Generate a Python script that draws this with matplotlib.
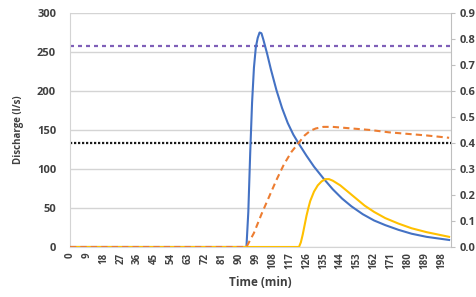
import matplotlib
matplotlib.use("Agg")
import matplotlib.pyplot as plt
import numpy as np

plt.rcParams['font.family'] = ['Open Sans', 'DejaVu Sans']

# Hydrographs (time in min, discharge in l/s)
t_blue = [0, 94, 95, 96, 97, 98, 99, 100, 101, 102, 103, 105, 107, 110, 113, 116, 119,
          122, 126, 130, 135, 140, 145, 150, 156, 162, 168, 175, 182, 190, 196, 202]
q_blue = [0, 0, 45, 120, 185, 230, 256, 268, 275, 274, 266, 248, 228, 201, 178, 159, 144,
          132, 117, 103, 88, 74, 62, 52, 42, 34, 28, 22, 17, 13, 11, 9]

t_yellow = [0, 122, 123, 124, 125, 126, 127, 128, 130, 132, 134, 136, 138, 140, 144,
            148, 152, 157, 162, 168, 175, 182, 190, 196, 202]
q_yellow = [0, 0, 6, 16, 28, 40, 50, 59, 71, 79, 84, 87, 87, 85, 79,
            71, 63, 53, 45, 37, 30, 24, 19, 16, 13]

t_orange = [0, 94, 98, 102, 106, 110, 114, 118, 122, 125, 128, 131, 135, 140, 150,
            160, 170, 180, 190, 202]
q_orange = [0, 0, 18, 42, 64, 86, 106, 122, 134, 143, 149, 152, 154, 154, 152,
            150, 147, 145, 143, 140]

purple_level = 258
black_level = 133.3

x_ticks = list(range(0, 199, 9))
left_ticks = [0, 50, 100, 150, 200, 250, 300]
right_ticks = [0.0, 0.1, 0.2, 0.3, 0.4, 0.5, 0.6, 0.7, 0.8, 0.9]

fig = plt.figure(figsize=(4.77, 2.97), dpi=100)
ax = fig.add_axes([0.1468, 0.1684, 0.7987, 0.7878])

x_max = 203
for y in left_ticks:
    ax.axhline(y, color='#d4d4d4', lw=1.0, zorder=0)

ax.axhline(purple_level, color='#7f5fb8', lw=1.6, ls=(0, (1.8, 1.8)), zorder=2)
ax.axhline(black_level, color='#1a1a1a', lw=1.6, ls=(0, (1, 0.8)), zorder=2)
ax.plot(t_blue, q_blue, color='#4472c4', lw=1.5, zorder=3)
ax.plot(t_yellow, q_yellow, color='#ffc000', lw=1.5, zorder=4)
ax.plot(t_orange, q_orange, color='#ed7d31', lw=1.5, ls=(0, (3, 2)), zorder=5)

ax.set_xlim(0, x_max)
ax.set_ylim(0, 300)
ax.set_yticks(left_ticks)
ax.set_xticks(x_ticks)
ax.set_xticklabels([str(v) for v in x_ticks], rotation=90)
ax.tick_params(axis='y', length=0, labelsize=8, labelcolor='#404040', pad=10)
ax.tick_params(axis='x', length=0, labelsize=7, labelcolor='#404040', pad=4)
for lab in ax.get_xticklabels() + ax.get_yticklabels():
    lab.set_fontweight('bold')
for s in ['top', 'right']:
    ax.spines[s].set_visible(False)
for s in ['left', 'bottom']:
    ax.spines[s].set_color('#d4d4d4')

ax.set_xlabel('Time (min)', fontsize=8.5, fontweight='bold', color='#404040', labelpad=5)
ax.set_ylabel('Discharge (l/s)', fontsize=7, fontweight='bold', color='#404040', labelpad=9)

ax2 = ax.twinx()
ax2.set_ylim(0, 0.9)
ax2.set_yticks(right_ticks)
ax2.set_yticklabels([f'{v:.1f}' for v in right_ticks])
ax2.tick_params(axis='y', length=3, color='#bfbfbf', labelsize=8, labelcolor='#404040', pad=3)
for lab in ax2.get_yticklabels():
    lab.set_fontweight('bold')
for s in ['top', 'left', 'bottom']:
    ax2.spines[s].set_visible(False)
ax2.spines['right'].set_color('#bfbfbf')

fig.savefig('out.png', dpi=100)
